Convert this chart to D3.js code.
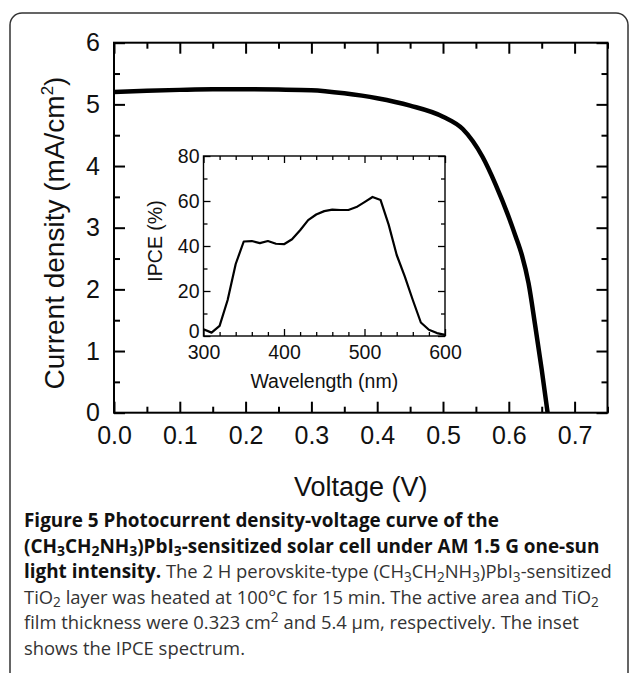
<!DOCTYPE html>
<html>
<head>
<meta charset="utf-8">
<script src="https://cdn.jsdelivr.net/npm/d3@7"></script>
<style>
  html, body { margin: 0; padding: 0; background: #fff; }
  svg { display: block; }
</style>
</head>
<body>
<svg id="chart" width="629" height="673"></svg>
<script>
// ---- Data ----
const voltage = [0, 0.05, 0.10, 0.15, 0.20, 0.25, 0.30, 0.35, 0.40, 0.45, 0.50, 0.53, 0.56, 0.58, 0.60, 0.61, 0.62, 0.63, 0.64, 0.65, 0.659];
const current = [5.20, 5.22, 5.235, 5.245, 5.245, 5.24, 5.23, 5.18, 5.10, 4.98, 4.80, 4.60, 4.15, 3.70, 3.17, 2.87, 2.55, 2.10, 1.42, 0.70, 0.0];

const wavelength = [300, 310, 320, 330, 340, 350, 360, 370, 380, 390, 400, 410, 420, 430, 440, 450, 460, 470, 480, 490, 500, 510, 520, 530, 540, 550, 560, 570, 580, 590, 600];
const ipce = [3.0, 1.5, 4.5, 16, 32, 42, 42.2, 41.3, 42.2, 41, 40.8, 43, 47, 51.5, 54, 55.5, 56.2, 56, 56, 57.3, 59.5, 61.8, 60.4, 49.5, 36, 26.5, 16, 6, 2.8, 1.3, 0.5];

const mainXTicks = [0, 0.1, 0.2, 0.3, 0.4, 0.5, 0.6, 0.7];
const mainXMinor = [0.05, 0.15, 0.25, 0.35, 0.45, 0.55, 0.65, 0.75];
const mainYTicks = [0, 1, 2, 3, 4, 5, 6];
const mainYMinor = [0.5, 1.5, 2.5, 3.5, 4.5, 5.5];
const insetXTicks = [300, 400, 500, 600];
const insetXMinor = [320, 340, 360, 380, 420, 440, 460, 480, 520, 540, 560, 580];
const insetYTicks = [0, 20, 40, 60, 80];
const insetYMinor = [10, 30, 50, 70];

const xLabel = "Voltage (V)";
const insetXLabel = "Wavelength (nm)";
const insetYLabel = "IPCE (%)";

const captionLines = [
  [{t: "Figure 5 Photocurrent density-voltage curve of the", b: true}],
  [{t: "(CH_3CH_2NH_3)PbI_3-sensitized solar cell under AM 1.5 G one-sun", b: true}],
  [{t: "light intensity.", b: true}, {t: " The 2 H perovskite-type (CH_3CH_2NH_3)PbI_3-sensitized", b: false}],
  [{t: "TiO_2 layer was heated at 100°C for 15 min. The active area and TiO_2", b: false}],
  [{t: "film thickness were 0.323 cm^2 and 5.4 μm, respectively. The inset", b: false}],
  [{t: "shows the IPCE spectrum.", b: false}]
];

// ---- Drawing ----
const svg = d3.select("#chart");
const AX_FONT = "'Liberation Sans', Arial, Helvetica, sans-serif";
const CAP_FONT = "'Open Sans', 'Noto Sans', sans-serif";

// outer rounded frame
svg.append("rect")
  .attr("x", 10).attr("y", 13).attr("width", 618).attr("height", 700)
  .attr("rx", 12).attr("ry", 12)
  .attr("fill", "none").attr("stroke", "#333").attr("stroke-width", 1.5);

// main scales
const x = d3.scaleLinear().domain([0, 0.75]).range([114, 607.5]);
const y = d3.scaleLinear().domain([0, 6]).range([412.7, 42.7]);

function styleAxis(g, size, sw) {
  g.select(".domain").remove();
  g.attr("font-family", AX_FONT).attr("font-size", size);
  g.selectAll("line").attr("stroke", "#000").attr("stroke-width", sw);
  g.selectAll("text").attr("fill", "#111");
}

const fmt1 = d3.format(".1f");
// bottom
svg.append("g").attr("transform", `translate(0,${y(0)})`)
  .call(d3.axisBottom(x).tickValues(mainXTicks).tickFormat(fmt1).tickSize(-11).tickPadding(13.5))
  .call(g => styleAxis(g, 25, 2));
svg.append("g").attr("transform", `translate(0,${y(0)})`)
  .call(d3.axisBottom(x).tickValues(mainXMinor).tickFormat("").tickSize(-6))
  .call(g => styleAxis(g, 25, 2));
// top
svg.append("g").attr("transform", `translate(0,${y(6)})`)
  .call(d3.axisTop(x).tickValues(mainXTicks).tickFormat("").tickSize(-11))
  .call(g => styleAxis(g, 25, 2));
svg.append("g").attr("transform", `translate(0,${y(6)})`)
  .call(d3.axisTop(x).tickValues(mainXMinor).tickFormat("").tickSize(-6))
  .call(g => styleAxis(g, 25, 2));
// left
svg.append("g").attr("transform", `translate(${x(0)},0)`)
  .call(d3.axisLeft(y).tickValues(mainYTicks).tickFormat(d3.format("d")).tickSize(-11).tickPadding(14))
  .call(g => styleAxis(g, 25, 2));
svg.append("g").attr("transform", `translate(${x(0)},0)`)
  .call(d3.axisLeft(y).tickValues(mainYMinor).tickFormat("").tickSize(-6))
  .call(g => styleAxis(g, 25, 2));
// right
svg.append("g").attr("transform", `translate(${x(0.75)},0)`)
  .call(d3.axisRight(y).tickValues(mainYTicks).tickFormat("").tickSize(-11))
  .call(g => styleAxis(g, 25, 2));
svg.append("g").attr("transform", `translate(${x(0.75)},0)`)
  .call(d3.axisRight(y).tickValues(mainYMinor).tickFormat("").tickSize(-6))
  .call(g => styleAxis(g, 25, 2));

// main frame
svg.append("rect")
  .attr("x", x(0)).attr("y", y(6))
  .attr("width", x(0.75) - x(0)).attr("height", y(0) - y(6))
  .attr("fill", "none").attr("stroke", "#000").attr("stroke-width", 2);

// main curve
const jv = voltage.map((v, i) => [v, current[i]]);
svg.append("path")
  .datum(jv)
  .attr("fill", "none").attr("stroke", "#000").attr("stroke-width", 4.5)
  .attr("stroke-linejoin", "round")
  .attr("d", d3.line().x(d => x(d[0])).y(d => y(d[1])).curve(d3.curveMonotoneX));

// main axis labels
svg.append("text")
  .attr("x", (x(0) + x(0.75)) / 2).attr("y", 496)
  .attr("text-anchor", "middle")
  .attr("font-family", AX_FONT).attr("font-size", 27).attr("fill", "#111")
  .text(xLabel);

const yl = svg.append("text")
  .attr("transform", "translate(64,233) rotate(-90)")
  .attr("text-anchor", "middle")
  .attr("font-family", AX_FONT).attr("font-size", 28).attr("fill", "#111");
yl.append("tspan").text("Current density (mA/cm");
yl.append("tspan").attr("font-size", 17).attr("dy", -11).text("2");
yl.append("tspan").attr("dy", 11).text(")");

// ---- Inset ----
const xi = d3.scaleLinear().domain([300, 600]).range([203.5, 445]);
const yi = d3.scaleLinear().domain([0, 80]).range([336, 156]);
const IS = 19.5;

svg.append("g").attr("transform", `translate(0,${yi(0)})`)
  .call(d3.axisBottom(xi).tickValues(insetXTicks).tickFormat(d3.format("d")).tickSize(-7).tickPadding(9.5))
  .call(g => styleAxis(g, IS, 1.3));
svg.append("g").attr("transform", `translate(0,${yi(0)})`)
  .call(d3.axisBottom(xi).tickValues(insetXMinor).tickFormat("").tickSize(-4))
  .call(g => styleAxis(g, IS, 1.3));
svg.append("g").attr("transform", `translate(0,${yi(80)})`)
  .call(d3.axisTop(xi).tickValues(insetXTicks).tickFormat("").tickSize(-7))
  .call(g => styleAxis(g, IS, 1.3));
svg.append("g").attr("transform", `translate(0,${yi(80)})`)
  .call(d3.axisTop(xi).tickValues(insetXMinor).tickFormat("").tickSize(-4))
  .call(g => styleAxis(g, IS, 1.3));
svg.append("g").attr("transform", `translate(${xi(300)},0)`)
  .call(d3.axisLeft(yi).tickValues(insetYTicks).tickFormat(d3.format("d")).tickSize(-7).tickPadding(4))
  .call(g => styleAxis(g, IS, 1.3))
  .call(g => g.selectAll(".tick text").filter(d => d === 0).attr("dy", "0.1em"));
svg.append("g").attr("transform", `translate(${xi(300)},0)`)
  .call(d3.axisLeft(yi).tickValues(insetYMinor).tickFormat("").tickSize(-4))
  .call(g => styleAxis(g, IS, 1.3));
svg.append("g").attr("transform", `translate(${xi(600)},0)`)
  .call(d3.axisRight(yi).tickValues(insetYTicks).tickFormat("").tickSize(-7))
  .call(g => styleAxis(g, IS, 1.3));
svg.append("g").attr("transform", `translate(${xi(600)},0)`)
  .call(d3.axisRight(yi).tickValues(insetYMinor).tickFormat("").tickSize(-4))
  .call(g => styleAxis(g, IS, 1.3));

svg.append("rect")
  .attr("x", xi(300)).attr("y", yi(80))
  .attr("width", xi(600) - xi(300)).attr("height", yi(0) - yi(80))
  .attr("fill", "none").attr("stroke", "#000").attr("stroke-width", 1.4);

const ip = wavelength.map((w, i) => [w, ipce[i]]);
svg.append("path")
  .datum(ip)
  .attr("fill", "none").attr("stroke", "#000").attr("stroke-width", 2.2)
  .attr("stroke-linejoin", "round")
  .attr("d", d3.line().x(d => xi(d[0])).y(d => yi(d[1])));

svg.append("text")
  .attr("x", (xi(300) + xi(600)) / 2).attr("y", 388)
  .attr("text-anchor", "middle")
  .attr("font-family", AX_FONT).attr("font-size", IS).attr("fill", "#111")
  .text(insetXLabel);

svg.append("text")
  .attr("transform", "translate(162,241) rotate(-90)")
  .attr("text-anchor", "middle")
  .attr("font-family", AX_FONT).attr("font-size", IS).attr("fill", "#111")
  .text(insetYLabel);

// ---- Caption ----
const CAP_BOLD = 18.9, CAP_REG = 18.4;
const capBase = 527, capStep = 25.6;
captionLines.forEach((segs, li) => {
  const t = svg.append("text")
    .attr("x", 24).attr("y", capBase + li * capStep)
    .attr("font-family", CAP_FONT);
  segs.forEach(seg => {
    const weight = seg.b ? 700 : 400;
    const fill = seg.b ? "#111" : "#333";
    const size = seg.b ? CAP_BOLD : CAP_REG;
    const re = /([_^])(\d)/g;
    let last = 0, m;
    const runs = [];
    while ((m = re.exec(seg.t)) !== null) {
      if (m.index > last) runs.push({s: seg.t.slice(last, m.index), k: "n"});
      runs.push({s: m[2], k: m[1] === "_" ? "sub" : "sup"});
      last = m.index + 2;
    }
    if (last < seg.t.length) runs.push({s: seg.t.slice(last), k: "n"});
    let shift = 0;
    runs.forEach(r => {
      const sp = t.append("tspan").attr("font-weight", weight).attr("fill", fill);
      const target = r.k === "sub" ? 3.5 : r.k === "sup" ? -7.5 : 0;
      sp.attr("dy", target - shift);
      shift = target;
      sp.attr("font-size", r.k !== "n" ? size * 0.74 : size);
      sp.text(r.s);
    });
    if (shift !== 0) {
      t.append("tspan").attr("dy", -shift).attr("font-size", size).text("");
    }
  });
});
</script>
</body>
</html>
